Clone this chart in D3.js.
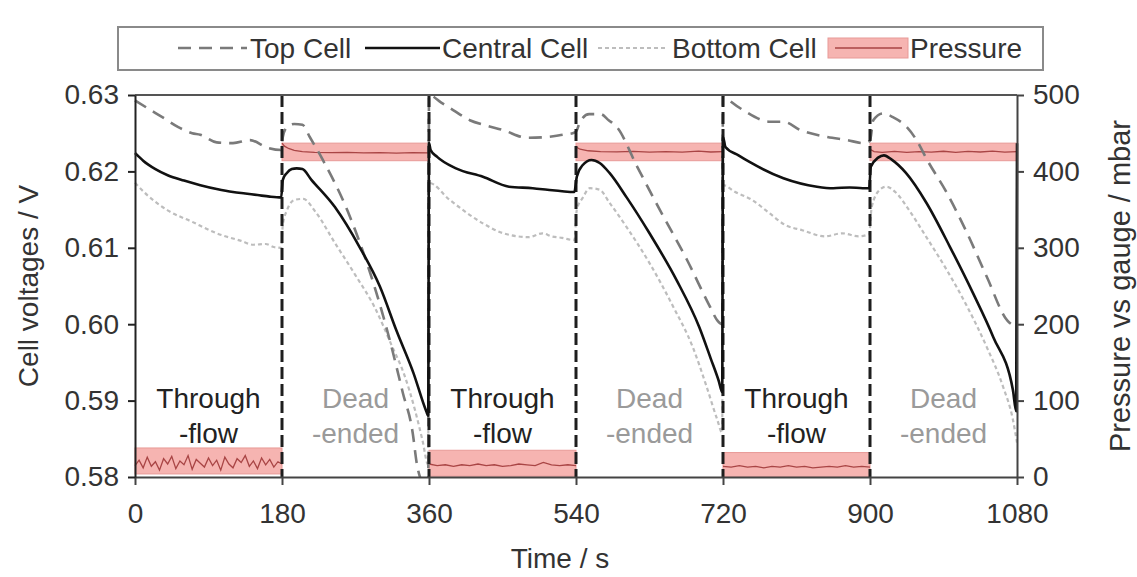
<!DOCTYPE html>
<html>
<head>
<meta charset="utf-8">
<script src="https://cdn.jsdelivr.net/npm/d3@7"></script>
<style>
  html, body { margin: 0; padding: 0; background: #fff; }
  svg { display: block; font-family: "Liberation Sans", Arial, sans-serif; }
</style>
</head>
<body>
<svg id="chart" width="1137" height="577"></svg>
<script>
// ---- data -------------------------------------------------------------
const timeTicks = [0, 180, 360, 540, 720, 900, 1080];
const voltTicks = [0.58, 0.59, 0.60, 0.61, 0.62, 0.63];
const pressureTicks = [0, 100, 200, 300, 400, 500];
const phaseEdges = [180, 360, 540, 720, 900];
const phaseStarts = [0, 180, 360, 540, 720, 900];
const phaseKinds = ["flow", "dead", "flow", "dead", "flow", "dead"];
const phaseText = { flow: ["Through", "-flow"], dead: ["Dead", "-ended"] };

// [time s, voltage V]
const topCell = [
  [0, 0.6293], [15, 0.6283], [35, 0.6270], [53, 0.6258], [70, 0.6250], [80, 0.6248], [100, 0.6238],
  [120, 0.6237], [141, 0.6241], [162, 0.6231], [179, 0.6228],
  [181, 0.6245], [186, 0.6258], [195, 0.6262], [205, 0.6261], [214, 0.6245], [230, 0.6215],
  [260, 0.6149], [288, 0.6067], [312, 0.5979], [328, 0.5910], [340, 0.5858], [345, 0.5818],
  [352, 0.5790], [359, 0.5770],
  [360, 0.6300], [375, 0.6290], [390, 0.6280], [410, 0.6267], [430, 0.6260], [451, 0.6254],
  [480, 0.6244], [505, 0.6245], [524, 0.6248], [536, 0.6250], [540, 0.6252],
  [545, 0.6265], [556, 0.6275], [570, 0.6275], [580, 0.6267], [590, 0.6258], [615, 0.6206],
  [643, 0.6149], [676, 0.6084], [704, 0.6023], [713, 0.6005], [719, 0.6000],
  [720, 0.6300], [729, 0.6292], [745, 0.6280], [778, 0.6265], [794, 0.6265], [815, 0.6254],
  [848, 0.6245], [872, 0.6241], [892, 0.6237], [900, 0.6240],
  [904, 0.6267], [916, 0.6276], [928, 0.6271], [945, 0.6258], [957, 0.6241], [970, 0.6215],
  [994, 0.6172], [1019, 0.6119], [1043, 0.6062], [1068, 0.6005], [1080, 0.5996]
];

const centralCell = [
  [0, 0.6224], [5, 0.6219], [10, 0.6214], [25, 0.6203], [40, 0.6195], [60, 0.6188], [80, 0.6182],
  [100, 0.6177], [120, 0.6173], [135, 0.6171], [150, 0.6169], [165, 0.6167], [179, 0.6166],
  [181, 0.6189], [186, 0.6198], [192, 0.6203], [198, 0.6204], [205, 0.6203], [216, 0.6189],
  [245, 0.6153], [275, 0.6101], [300, 0.6049], [320, 0.5992], [341, 0.5936], [357, 0.5885], [359, 0.5880],
  [360, 0.6237], [362, 0.6228], [370, 0.6219], [393, 0.6204], [426, 0.6193], [458, 0.6180],
  [487, 0.6178], [505, 0.6176], [523, 0.6174], [538, 0.6173],
  [541, 0.6193], [548, 0.6208], [559, 0.6215], [569, 0.6211], [581, 0.6198], [602, 0.6166],
  [630, 0.6119], [663, 0.6058], [691, 0.5996], [705, 0.5955], [715, 0.5925], [719, 0.5911],
  [720, 0.6245], [723, 0.6232], [739, 0.6221], [753, 0.6212], [794, 0.6191], [835, 0.6180],
  [855, 0.6178], [875, 0.6179], [891, 0.6178], [899, 0.6178],
  [901, 0.6206], [910, 0.6218], [917, 0.6221], [927, 0.6215], [944, 0.6198], [969, 0.6159],
  [998, 0.6101], [1026, 0.6041], [1051, 0.5983], [1075, 0.5914], [1079, 0.5886], [1080, 0.6237]
];

const bottomCell = [
  [0, 0.6185], [15, 0.6169], [40, 0.6149], [70, 0.6134], [100, 0.6119], [130, 0.6109], [145, 0.6104],
  [160, 0.6105], [170, 0.6101], [179, 0.6100],
  [181, 0.6130], [186, 0.6149], [196, 0.6163], [206, 0.6164], [221, 0.6147], [245, 0.6106],
  [270, 0.6064], [294, 0.6021], [314, 0.5973], [330, 0.5933], [343, 0.5887], [352, 0.5848], [359, 0.5816],
  [360, 0.6185], [385, 0.6163], [426, 0.6132], [451, 0.6119], [482, 0.6114], [499, 0.6119],
  [510, 0.6115], [523, 0.6113], [538, 0.6110],
  [541, 0.6150], [548, 0.6165], [557, 0.6178], [569, 0.6176], [581, 0.6159], [602, 0.6127],
  [630, 0.6080], [659, 0.6023], [683, 0.5970], [700, 0.5918], [713, 0.5875], [719, 0.5858],
  [720, 0.6182], [735, 0.6173], [755, 0.6163], [776, 0.6146], [796, 0.6130], [817, 0.6123],
  [845, 0.6115], [866, 0.6119], [886, 0.6115], [899, 0.6118],
  [902, 0.6153], [912, 0.6176], [920, 0.6180], [932, 0.6172], [948, 0.6149], [969, 0.6114],
  [994, 0.6071], [1019, 0.6023], [1043, 0.5970], [1063, 0.5918], [1075, 0.5875], [1080, 0.5845]
];

// pressure envelope per phase: [start s, end s, low mbar, high mbar]
const pressureBands = [
  [0, 180, 4, 38], [180, 360, 414, 437], [360, 540, 1, 35],
  [540, 720, 414, 437], [720, 900, 0, 32], [900, 1080, 414, 437]
];

// pressure readings, [time s, mbar]
const pressureFlow1 = [
  [0, 15], [5, 22], [10, 12], [15, 26], [20, 14], [25, 20], [30, 9], [35, 24], [40, 17], [45, 27],
  [50, 11], [55, 21], [60, 16], [65, 28], [70, 10], [75, 23], [80, 18], [85, 13], [90, 25], [95, 15],
  [100, 22], [105, 9], [110, 26], [115, 17], [120, 12], [125, 24], [130, 19], [135, 28], [140, 14],
  [145, 21], [150, 11], [155, 25], [160, 16], [165, 23], [170, 13], [175, 20], [180, 17]
];
const pressureDead1 = [
  [180, 437], [183, 433], [188, 430], [195, 427.5], [205, 426], [220, 425], [240, 424.5],
  [260, 424.8], [280, 424.2], [300, 424.6], [320, 424], [340, 424.5], [360, 424.2]
];
const pressureFlow2 = [
  [360, 17], [370, 15], [380, 16], [390, 14], [400, 16], [410, 15], [420, 17], [430, 15], [440, 16],
  [450, 14], [460, 15], [470, 17], [480, 16], [490, 15], [500, 19], [510, 16], [520, 15], [530, 16], [540, 15]
];
const pressureDead2 = [
  [540, 432], [545, 429], [555, 427], [570, 426], [590, 425.5], [610, 426.2], [630, 425.3],
  [650, 426], [670, 425.2], [690, 426.5], [705, 425.4], [720, 425.8]
];
const pressureFlow3 = [
  [720, 14], [730, 13], [740, 15], [750, 13], [760, 14], [770, 12], [780, 14], [790, 13], [800, 15],
  [810, 13], [820, 14], [830, 12], [840, 13], [850, 14], [860, 13], [870, 15], [880, 13], [890, 14], [900, 13]
];
const pressureDead3 = [
  [900, 429], [905, 426], [915, 425], [930, 426.3], [945, 424.8], [960, 426], [975, 425.2],
  [990, 426.4], [1005, 425], [1020, 426.2], [1035, 425.4], [1050, 426.5], [1065, 425.3], [1080, 426]
];
const pressureSeries = [pressureFlow1, pressureDead1, pressureFlow2, pressureDead2, pressureFlow3, pressureDead3];

// ---- layout -----------------------------------------------------------
const svg = d3.select("#chart");
const plot = { left: 135, right: 1017, top: 95, bottom: 477 };

const x = d3.scaleLinear().domain([0, 1080]).range([plot.left, plot.right]);
const yV = d3.scaleLinear().domain([0.58, 0.63]).range([plot.bottom, plot.top]);
const yP = d3.scaleLinear().domain([0, 500]).range([plot.bottom, plot.top]);

svg.append("defs").append("clipPath").attr("id", "plot-clip")
  .append("rect")
  .attr("x", plot.left - 2).attr("y", plot.top)
  .attr("width", plot.right - plot.left + 4).attr("height", plot.bottom - plot.top);

const body = svg.append("g").attr("clip-path", "url(#plot-clip)");

// pressure envelope bands
body.selectAll("rect.band").data(pressureBands).join("rect")
  .attr("class", "band")
  .attr("x", d => x(d[0]))
  .attr("width", d => x(d[1]) - x(d[0]))
  .attr("y", d => yP(d[3]))
  .attr("height", d => yP(d[2]) - yP(d[3]))
  .attr("fill", "#f6b4b1")
  .attr("stroke", "#e89a97")
  .attr("stroke-width", 1);

const pLine = d3.line().x(d => x(d[0])).y(d => yP(d[1]));
body.selectAll("path.pressure").data(pressureSeries).join("path")
  .attr("class", "pressure")
  .attr("d", pLine)
  .attr("fill", "none")
  .attr("stroke", "#a94545")
  .attr("stroke-width", 1.3);

// cell voltage traces
const vLine = d3.line().x(d => x(d[0])).y(d => yV(d[1])).curve(d3.curveMonotoneX);

body.append("path").datum(bottomCell)
  .attr("d", vLine).attr("fill", "none")
  .attr("stroke", "#bdbdbd").attr("stroke-width", 2.2)
  .attr("stroke-dasharray", "4,3");

body.append("path").datum(topCell)
  .attr("d", vLine).attr("fill", "none")
  .attr("stroke", "#7a7a7a").attr("stroke-width", 2.6)
  .attr("stroke-dasharray", "13,8");

// phase boundaries
body.selectAll("line.edge").data(phaseEdges).join("line")
  .attr("class", "edge")
  .attr("x1", d => x(d)).attr("x2", d => x(d))
  .attr("y1", plot.top).attr("y2", plot.bottom)
  .attr("stroke", "#1e1e1e").attr("stroke-width", 3)
  .attr("stroke-dasharray", "12,5");

body.append("path").datum(centralCell)
  .attr("d", vLine).attr("fill", "none")
  .attr("stroke", "#111").attr("stroke-width", 2.6)
  .attr("stroke-linejoin", "round");

// phase labels
const labels = svg.append("g").attr("font-size", 28).attr("text-anchor", "middle");
phaseStarts.forEach((s, i) => {
  const kind = phaseKinds[i];
  const cx = x(s + 90);
  const t = labels.append("text")
    .attr("fill", kind === "flow" ? "#222" : "#9a9a9a");
  t.append("tspan").attr("x", cx).attr("y", 408).text(phaseText[kind][0]);
  t.append("tspan").attr("x", cx).attr("y", 443).text(phaseText[kind][1]);
});

// frame
svg.append("line")
  .attr("x1", plot.left).attr("x2", plot.right)
  .attr("y1", plot.top).attr("y2", plot.top)
  .attr("stroke", "#555").attr("stroke-width", 2);

// axes
function styleAxis(g, color) {
  g.selectAll(".domain").attr("stroke", color).attr("stroke-width", 2);
  g.selectAll(".tick line").attr("stroke", color).attr("stroke-width", 2);
  g.selectAll(".tick text").attr("fill", "#333").attr("font-size", 28)
    .attr("font-family", "'Liberation Sans', Arial, sans-serif");
}

const xAxis = svg.append("g")
  .attr("transform", `translate(0,${plot.bottom})`)
  .call(d3.axisBottom(x).tickValues(timeTicks).tickFormat(d3.format("d"))
    .tickSize(8).tickSizeOuter(0).tickPadding(18));
styleAxis(xAxis, "#444");

const yAxisL = svg.append("g")
  .attr("transform", `translate(${plot.left},0)`)
  .call(d3.axisLeft(yV).tickValues(voltTicks).tickFormat(d3.format(".2f")).tickSize(7).tickSizeOuter(0).tickPadding(9));
styleAxis(yAxisL, "#222");

const yAxisR = svg.append("g")
  .attr("transform", `translate(${plot.right},0)`)
  .call(d3.axisRight(yP).tickValues(pressureTicks).tickSize(7).tickSizeOuter(0).tickPadding(9));
styleAxis(yAxisR, "#444");

// axis titles
svg.append("text")
  .attr("x", 560).attr("y", 568)
  .attr("text-anchor", "middle").attr("font-size", 28).attr("fill", "#333")
  .text("Time / s");

svg.append("text")
  .attr("transform", `translate(38,${(plot.top + plot.bottom) / 2}) rotate(-90)`)
  .attr("text-anchor", "middle").attr("font-size", 28).attr("fill", "#333")
  .text("Cell voltages / V");

svg.append("text")
  .attr("transform", `translate(1130,${(plot.top + plot.bottom) / 2}) rotate(-90)`)
  .attr("text-anchor", "middle").attr("font-size", 29).attr("fill", "#333")
  .text("Pressure vs gauge / mbar");

// legend
const legend = svg.append("g");
legend.append("rect")
  .attr("x", 118).attr("y", 27).attr("width", 925).attr("height", 43)
  .attr("fill", "#fff").attr("stroke", "#8a8a8a").attr("stroke-width", 2);

const ly = 48;
legend.append("line").attr("x1", 178).attr("x2", 247).attr("y1", ly).attr("y2", ly)
  .attr("stroke", "#7a7a7a").attr("stroke-width", 2.6).attr("stroke-dasharray", "13,8");
legend.append("line").attr("x1", 365).attr("x2", 440).attr("y1", ly).attr("y2", ly)
  .attr("stroke", "#111").attr("stroke-width", 2.6);
legend.append("line").attr("x1", 598).attr("x2", 665).attr("y1", ly).attr("y2", ly)
  .attr("stroke", "#bdbdbd").attr("stroke-width", 2.2).attr("stroke-dasharray", "4,3");
legend.append("rect").attr("x", 828).attr("y", 38).attr("width", 80).attr("height", 20)
  .attr("fill", "#f6b4b1").attr("stroke", "#e89a97").attr("stroke-width", 1);
legend.append("line").attr("x1", 835).attr("x2", 902).attr("y1", ly).attr("y2", ly)
  .attr("stroke", "#a94545").attr("stroke-width", 1.5);

const legendText = [[250, "Top Cell"], [442, "Central Cell"], [672, "Bottom Cell"], [910, "Pressure"]];
legend.selectAll("text").data(legendText).join("text")
  .attr("x", d => d[0]).attr("y", 58)
  .attr("font-size", 28).attr("fill", "#333")
  .text(d => d[1]);
</script>
</body>
</html>
